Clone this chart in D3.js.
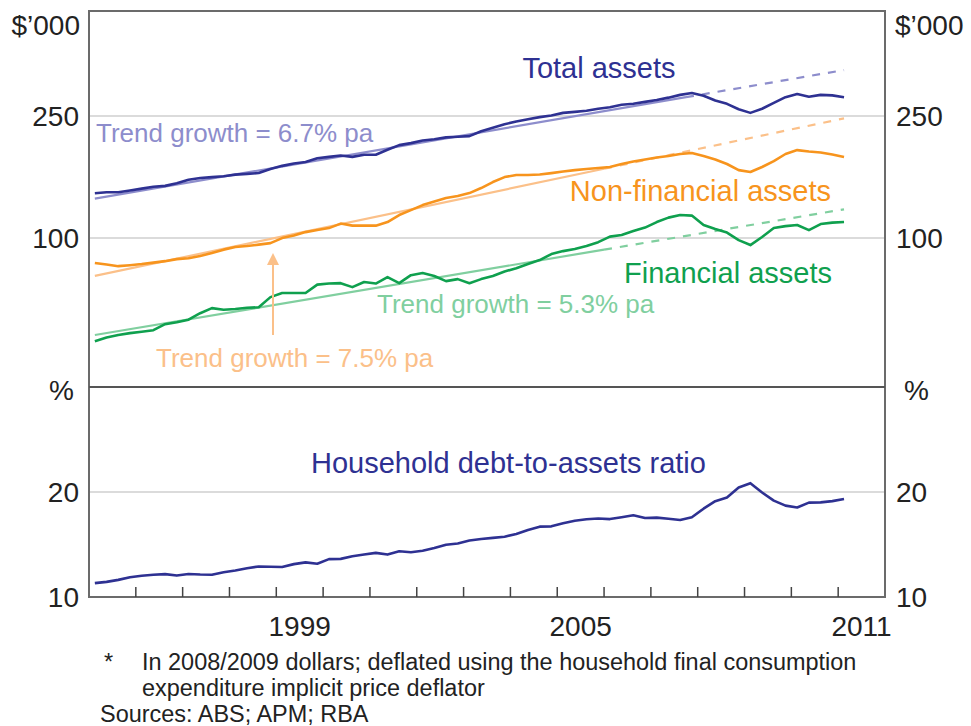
<!DOCTYPE html>
<html>
<head>
<meta charset="utf-8">
<script src="https://cdn.jsdelivr.net/npm/d3@7"></script>
<style>
  body { margin: 0; background: #fff; }
  svg text { font-family: "Liberation Sans", Arial, sans-serif; }
</style>
</head>
<body>
<div id="chart"></div>
<script>
// quarterly observations, 1995 Q1 .. 2011 Q1 (decimal year, mid-quarter)
const quarters = d3.range(65).map(i => 1995.125 + i * 0.25);

// $'000 per household (real)
const totalAssets = [140, 141, 141, 143, 145, 147, 148, 151, 155, 157, 158, 159, 161, 162, 163, 168,
  172, 175, 177, 182, 184, 186, 184, 187, 187, 194, 201, 204, 208, 210, 213, 214,
  215, 223, 229, 235, 240, 244, 248, 251, 256, 258, 260, 264, 267, 272, 274, 278,
  282, 287, 293, 297, 291, 281, 274, 263, 256, 264, 276, 288, 295, 289, 293, 292, 288];

const nonFinancialAssets = [83, 82, 81, 81.6, 82.3, 83.2, 84.1, 85.4, 86, 87.4, 89.4, 91.7, 93.5, 94.2, 95.2, 96.3,
  100, 101.9, 104.6, 106.2, 107.8, 111.5, 109.8, 109.8, 109.8, 112.8, 118.9, 123.4, 128.1, 131.5, 135.1, 137.1,
  140.2, 145.6, 152.3, 158.1, 160.5, 160.5, 161.1, 162.9, 164.8, 166.6, 168, 169.2, 170.5, 174.4, 177.7, 180.4,
  183.1, 185.2, 188, 189.4, 185.2, 180.4, 174.4, 166.6, 164.2, 170.5, 178.3, 188, 193.6, 191.5, 190.1, 187.3, 183.8];

const financialAssets = [46.1, 47.4, 48.3, 49.0, 49.5, 50.1, 52.4, 53.2, 54.2, 56.9, 59.1, 58.4, 58.7, 59.3, 59.5, 64.2,
  66.2, 66.2, 66.2, 70.5, 71.1, 71.3, 69.2, 71.9, 71.1, 74.6, 71.3, 75.7, 76.9, 75.2, 72.4, 73.5,
  71.3, 73.5, 75.2, 77.8, 79.8, 82.3, 84.8, 88.7, 90.7, 92.1, 94.2, 97.0, 101.1, 102.3, 105.4, 108.2,
  112.8, 116.6, 118.9, 118.4, 110.3, 107.0, 104.2, 98.5, 94.9, 100.8, 107.8, 109.4, 110.3, 106.2, 111.1, 112.3, 112.8];

// per cent
const debtToAssets = [11.32, 11.44, 11.63, 11.88, 12.02, 12.12, 12.18, 12.04, 12.19, 12.14, 12.12, 12.36, 12.53, 12.74, 12.91, 12.88,
  12.86, 13.13, 13.30, 13.17, 13.61, 13.63, 13.88, 14.04, 14.20, 14.04, 14.36, 14.26, 14.40, 14.66, 14.97, 15.10,
  15.38, 15.53, 15.63, 15.74, 16.01, 16.39, 16.70, 16.73, 17.02, 17.26, 17.40, 17.47, 17.42, 17.60, 17.79, 17.52,
  17.56, 17.45, 17.34, 17.60, 18.41, 19.13, 19.47, 20.43, 20.84, 19.95, 19.18, 18.70, 18.53, 18.99, 19.01, 19.13, 19.33];

// trend lines: start, end of fitted (solid) part, end of projection (dashed)
const trendTotalDates = [1995.125, 2007.75, 2011.125];
const trendTotalValues = [134.5, 288, 353];
const trendNonFinDates = [1995.125, 2006.0, 2011.125];
const trendNonFinValues = [75.3, 168.3, 245.7];
const trendFinDates = [1995.125, 2006.0, 2011.125];
const trendFinValues = [48.3, 91.7, 124.1];

const topTicks = [100, 250];
const bottomTicks = [10, 20];
const yearTicks = d3.range(1996, 2012);
const yearLabels = [1999, 2005, 2011];

const W = 971, H = 726;
const plot = {left: 89, right: 885, top: 11, mid: 387, bottom: 597};

const svg = d3.select("#chart").append("svg")
    .attr("width", W).attr("height", H);

const x = d3.scaleLinear().domain([1995, 2012]).range([plot.left, plot.right]);
const yTop = d3.scaleLog().domain([32.7, 550]).range([plot.mid, plot.top]);
const yBot = d3.scaleLinear().domain([10, 30]).range([plot.bottom, plot.mid]);

const dark = "#2e3192", orange = "#f7941d", green = "#0fa04e";

// grid lines
svg.selectAll("line.gt").data(topTicks).join("line")
    .attr("x1", plot.left).attr("x2", plot.right)
    .attr("y1", d => yTop(d)).attr("y2", d => yTop(d))
    .attr("stroke", "#cfcfcf").attr("stroke-width", 1.5);
svg.selectAll("line.gb").data(bottomTicks.filter(d => d > 10)).join("line")
    .attr("x1", plot.left).attr("x2", plot.right)
    .attr("y1", d => yBot(d)).attr("y2", d => yBot(d))
    .attr("stroke", "#cfcfcf").attr("stroke-width", 1.5);

// tick labels both sides
const lab = (sel, xpos, anchor) => sel
    .attr("x", xpos).attr("text-anchor", anchor)
    .attr("dominant-baseline", "central")
    .attr("font-size", 28).attr("fill", "#222");

[[plot.left - 10, "end"], [plot.right + 11, "start"]].forEach(([xp, anc]) => {
    svg.append("g").selectAll("text").data(topTicks).join("text")
        .call(lab, xp, anc).attr("y", d => yTop(d)).text(d => d);
    svg.append("g").selectAll("text").data(bottomTicks).join("text")
        .call(lab, xp, anc).attr("y", d => yBot(d)).text(d => d);
    svg.append("text").call(lab, xp + (anc === "end" ? 1 : -1), anc).attr("y", 25).text("$’000");
    svg.append("text").call(lab, anc === "end" ? xp - 5 : xp + 8, anc).attr("y", 390).text("%");
});

// trend lines
const line = (ys) => d3.line().x(d => x(d[0])).y(d => ys(d[1]));
const trends = [
    [trendTotalDates, trendTotalValues, "#8d8dcc"],
    [trendNonFinDates, trendNonFinValues, "#fbc089"],
    [trendFinDates, trendFinValues, "#80cf9f"]
];
trends.forEach(([dates, vals, col]) => {
    const pts = dates.map((d, i) => [d, vals[i]]);
    svg.append("path").attr("d", line(yTop)(pts.slice(0, 2)))
        .attr("fill", "none").attr("stroke", col).attr("stroke-width", 2.2);
    svg.append("path").attr("d", line(yTop)(pts.slice(1)))
        .attr("fill", "none").attr("stroke", col).attr("stroke-width", 2.2)
        .attr("stroke-dasharray", "8,8");
});

// series
[[totalAssets, dark], [nonFinancialAssets, orange], [financialAssets, green]].forEach(([vals, col]) => {
    svg.append("path")
        .attr("d", line(yTop)(quarters.map((q, i) => [q, vals[i]])))
        .attr("fill", "none").attr("stroke", col).attr("stroke-width", 2.6)
        .attr("stroke-linejoin", "round");
});
svg.append("path")
    .attr("d", line(yBot)(quarters.map((q, i) => [q, debtToAssets[i]])))
    .attr("fill", "none").attr("stroke", dark).attr("stroke-width", 2.6)
    .attr("stroke-linejoin", "round");

// frame
svg.append("rect")
    .attr("x", plot.left).attr("y", plot.top)
    .attr("width", plot.right - plot.left).attr("height", plot.bottom - plot.top)
    .attr("fill", "none").attr("stroke", "#6b6b6b").attr("stroke-width", 2);
svg.append("line")
    .attr("x1", plot.left).attr("x2", plot.right)
    .attr("y1", plot.mid).attr("y2", plot.mid)
    .attr("stroke", "#555").attr("stroke-width", 2);

// year ticks
svg.selectAll("line.yt").data(yearTicks).join("line")
    .attr("x1", d => x(d)).attr("x2", d => x(d))
    .attr("y1", plot.bottom).attr("y2", plot.bottom - 10)
    .attr("stroke", "#444").attr("stroke-width", 1.5);
svg.selectAll("text.yl").data(yearLabels).join("text")
    .attr("x", d => x(d + 0.5)).attr("y", 636)
    .attr("text-anchor", "middle").attr("font-size", 28).attr("fill", "#222")
    .text(d => d);

// annotations
const note = (t, xp, yp, col, size, anchor) => svg.append("text")
    .attr("x", xp).attr("y", yp).attr("fill", col)
    .attr("font-size", size).attr("text-anchor", anchor || "start").text(t);

note("Total assets", 599, 78, dark, 29, "middle");
note("Trend growth = 6.7% pa", 96, 142, "#8d8dcc", 26);
note("Non-financial assets", 831, 201, orange, 29, "end");
note("Financial assets", 832, 283, green, 29, "end");
note("Trend growth = 5.3% pa", 377, 313, "#80cf9f", 26);
note("Trend growth = 7.5% pa", 156, 367, "#fbc089", 26);
note("Household debt-to-assets ratio", 311, 473, dark, 29);

// arrow
svg.append("line")
    .attr("x1", 273).attr("x2", 273).attr("y1", 335).attr("y2", 262)
    .attr("stroke", "#fbc089").attr("stroke-width", 2);
svg.append("path")
    .attr("d", d3.line()([[267, 265], [273, 253], [279, 265]]) + "Z")
    .attr("fill", "#fbc089");

// footnote
const foot = [
    ["*", 104, 670],
    ["In 2008/2009 dollars; deflated using the household final consumption", 142, 670],
    ["expenditure implicit price deflator", 142, 696],
    ["Sources: ABS; APM; RBA", 100, 722]
];
svg.selectAll("text.note").data(foot).join("text")
    .attr("class", "note")
    .attr("transform", d => `translate(${d[1]},${d[2]}) scale(1.02,1)`)
    .attr("font-size", 23).attr("fill", "#222")
    .text(d => d[0]);
</script>
</body>
</html>
